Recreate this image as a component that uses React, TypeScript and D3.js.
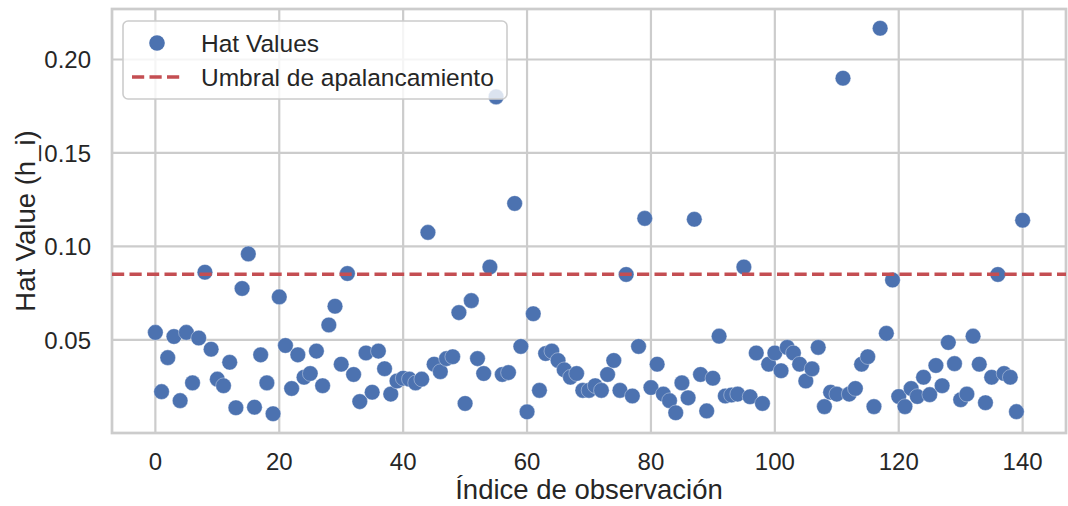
import { useMemo } from "react";
import * as d3 from "d3";

// hat values per observation (index = position)
const hatValues: number[] = [
  0.054, 0.0223, 0.0405, 0.0518, 0.0175, 0.054, 0.027, 0.051, 0.0862, 0.045,
  0.029, 0.0255, 0.038, 0.0137, 0.0775, 0.096, 0.014, 0.042, 0.027, 0.0105,
  0.073, 0.047, 0.024, 0.042, 0.03, 0.032, 0.044, 0.0255, 0.058, 0.068,
  0.037, 0.0855, 0.0315, 0.017, 0.043, 0.022, 0.044, 0.0346, 0.021, 0.028,
  0.0295, 0.029, 0.027, 0.029, 0.1075, 0.037, 0.033, 0.04, 0.041, 0.0646,
  0.016, 0.071, 0.04, 0.032, 0.089, 0.18, 0.0315, 0.0325, 0.123, 0.0465,
  0.0115, 0.064, 0.023, 0.0427, 0.044, 0.039, 0.034, 0.03, 0.032, 0.023,
  0.023, 0.0255, 0.023, 0.0315, 0.039, 0.023, 0.085, 0.02, 0.0465, 0.115,
  0.0245, 0.037, 0.021, 0.0175, 0.011, 0.027, 0.019, 0.1145, 0.0315, 0.012,
  0.0295, 0.052, 0.02, 0.0205, 0.021, 0.089, 0.0196, 0.043, 0.016, 0.037,
  0.043, 0.0335, 0.046, 0.043, 0.037, 0.028, 0.0345, 0.046, 0.0143, 0.022,
  0.021, 0.19, 0.021, 0.024, 0.037, 0.041, 0.0143, 0.2167, 0.0535, 0.082,
  0.0197, 0.0143, 0.024, 0.0197, 0.03, 0.0207, 0.0363, 0.0255, 0.0486, 0.0373,
  0.018, 0.021, 0.052, 0.037, 0.0164, 0.03, 0.085, 0.032, 0.03, 0.0116,
  0.114,
];

const threshold = 12 / 141;

const xTicks = [0, 20, 40, 60, 80, 100, 120, 140];
const yTicks = [0.05, 0.1, 0.15, 0.2];

const legendLabels = ["Hat Values", "Umbral de apalancamiento"];

const W = 1068;
const H = 506;
const M = { left: 112, right: 2, top: 9, bottom: 73 };
const BLUE = "#4C72B0";
const RED = "#C44E52";
const GRID = "#cccccc";
const TEXT = "#262626";
const FONT = "'Liberation Sans', Arial, Helvetica, sans-serif";

export default function App() {
  const pts = useMemo(() => hatValues.map((v, i) => ({ i, v })), []);

  const x = useMemo(() => {
    const n = hatValues.length - 1;
    const pad = n * 0.05;
    return d3.scaleLinear().domain([-pad, n + pad]).range([M.left, W - M.right]);
  }, []);

  const y = useMemo(() => {
    const [lo, hi] = d3.extent(hatValues) as [number, number];
    const pad = (hi - lo) * 0.05;
    return d3.scaleLinear().domain([lo - pad, hi + pad]).range([H - M.bottom, M.top]);
  }, []);

  const [x0, x1] = x.range();
  const [yb, yt] = y.range();

  return (
    <svg
      width={W}
      height={H}
      style={{ position: "absolute", left: 0, top: 0, background: "#fff" }}
      fontFamily={FONT}
    >
      {/* grid */}
      {xTicks.map((t) => (
        <line key={"gx" + t} x1={x(t)} x2={x(t)} y1={yt} y2={yb} stroke={GRID} strokeWidth={2.2} />
      ))}
      {yTicks.map((t) => (
        <line key={"gy" + t} x1={x0} x2={x1} y1={y(t)} y2={y(t)} stroke={GRID} strokeWidth={2.2} />
      ))}

      {/* spines */}
      <rect x={x0} y={yt} width={x1 - x0} height={yb - yt} fill="none" stroke={GRID} strokeWidth={2.7} />

      {/* points */}
      {pts.map((d) => (
        <circle
          key={d.i}
          cx={x(d.i)}
          cy={y(d.v)}
          r={7.8}
          fill={BLUE}
          stroke="#ffffff"
          strokeWidth={0.6}
          strokeOpacity={0.6}
        />
      ))}

      {/* threshold */}
      <line
        x1={x0}
        x2={x1}
        y1={y(threshold)}
        y2={y(threshold)}
        stroke={RED}
        strokeWidth={3.3}
        strokeDasharray="12.2 5.3"
      />

      {/* tick labels */}
      {xTicks.map((t) => (
        <text key={"tx" + t} x={x(t)} y={470} textAnchor="middle" fontSize={24} fill={TEXT}>
          {t}
        </text>
      ))}
      {yTicks.map((t) => (
        <text
          key={"ty" + t}
          x={91}
          y={y(t)}
          dy="0.36em"
          textAnchor="end"
          fontSize={24}
          fill={TEXT}
        >
          {d3.format(".2f")(t)}
        </text>
      ))}

      {/* axis labels */}
      <text x={(x0 + x1) / 2} y={499} textAnchor="middle" fontSize={27.5} fill={TEXT}>
        Índice de observación
      </text>
      <text
        transform={`translate(35,${(yt + yb) / 2}) rotate(-90)`}
        textAnchor="middle"
        fontSize={27.5}
        fill={TEXT}
      >
        Hat Value (h_i)
      </text>

      {/* legend */}
      <g>
        <rect
          x={123}
          y={21}
          width={384}
          height={78}
          rx={5}
          fill="#ffffff"
          fillOpacity={0.8}
          stroke={GRID}
          strokeWidth={1.6}
        />
        <circle cx={157} cy={43} r={7.8} fill={BLUE} />
        <text x={201} y={43} dy="0.36em" fontSize={24.5} fill={TEXT}>
          {legendLabels[0]}
        </text>
        <line x1={132} x2={181} y1={77} y2={77} stroke={RED} strokeWidth={3.3} strokeDasharray="12.2 5.3" />
        <text x={201} y={77} dy="0.36em" fontSize={24.5} fill={TEXT}>
          {legendLabels[1]}
        </text>
      </g>
    </svg>
  );
}
